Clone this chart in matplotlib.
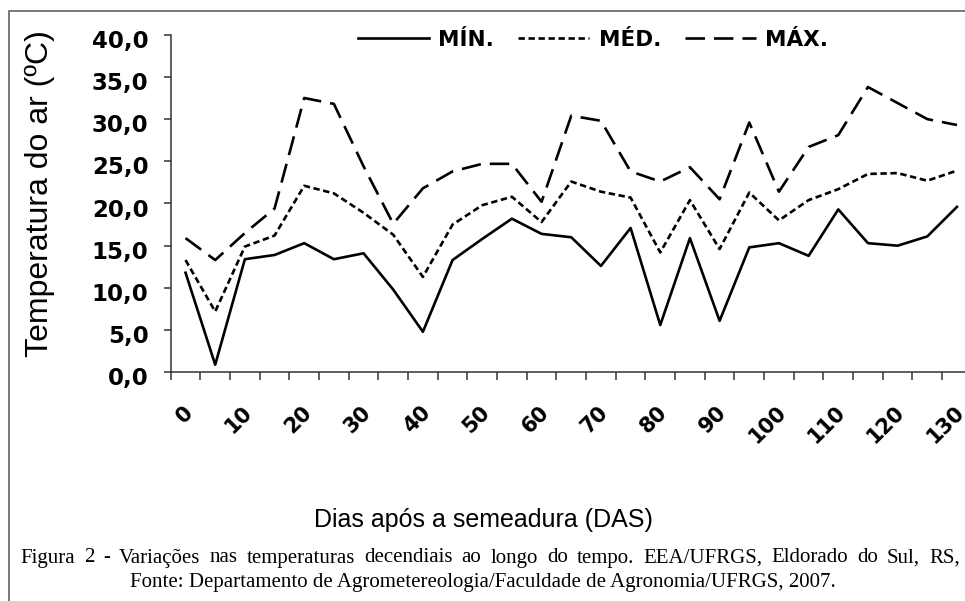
import numpy as np
import matplotlib
matplotlib.use("Agg")
import matplotlib.pyplot as plt
from matplotlib.patches import Rectangle
from matplotlib.transforms import ScaledTranslation

# dias apos a semeadura (a cada 5 dias)
dias = list(range(0, 135, 5))

t_min = [11.8, 0.9, 13.4, 13.9, 15.3, 13.4, 14.1, 9.8, 4.8, 13.3, 15.8, 18.2, 16.4, 16.0,
         12.6, 17.1, 5.6, 15.9, 6.1, 14.8, 15.3, 13.8, 19.3, 15.3, 15.0, 16.1, 19.6]
t_med = [13.3, 7.2, 14.9, 16.2, 22.1, 21.2, 18.9, 16.3, 11.3, 17.5, 19.8, 20.8, 17.8, 22.6,
         21.4, 20.7, 14.2, 20.4, 14.6, 21.3, 18.0, 20.4, 21.7, 23.5, 23.6, 22.7, 23.9]
t_max = [15.9, 13.3, 16.5, 19.4, 32.5, 31.8, 24.4, 17.6, 21.8, 23.8, 24.7, 24.7, 20.2, 30.4,
         29.8, 23.8, 22.6, 24.3, 20.5, 29.6, 21.4, 26.7, 28.1, 33.8, 31.9, 30.0, 29.3]

y_ticks = [0, 5, 10, 15, 20, 25, 30, 35, 40]
x_labels = list(range(0, 140, 10))

legenda_1 = 'Figura 2 - Variações nas temperaturas decendiais ao longo do tempo. EEA/UFRGS, Eldorado do Sul, RS,'
legenda_2 = 'Fonte: Departamento de Agrometereologia/Faculdade de Agronomia/UFRGS, 2007.'

plt.rcParams['lines.scale_dashes'] = False

W, H = 965, 601
fig = plt.figure(figsize=(W / 100, H / 100), dpi=100)
ax = fig.add_axes([170.7 / W, 1 - 372.3 / H, (971.8 - 170.7) / W, (372.3 - 34.7) / H])

lw = 1.9
ax.plot(dias, t_min, color='black', lw=lw, linestyle='-', label='MÍN.')
ax.plot(dias, t_med, color='black', lw=lw, linestyle=(0, (4.6, 2.6)), label='MÉD.')
ax.plot(dias, t_max, color='black', lw=lw, linestyle=(0, (14, 6.5)), label='MÁX.')

ax.set_xlim(-2.5, 132.5)
ax.set_ylim(0, 40)
for s in ['top', 'right']:
    ax.spines[s].set_visible(False)
for s in ['left', 'bottom']:
    ax.spines[s].set_color('#333333')
    ax.spines[s].set_linewidth(1.1)

ax.set_yticks(y_ticks)
ax.set_yticklabels([('%.1f' % v).replace('.', ',') for v in y_ticks],
                   fontsize=16.5, fontweight='bold', family='DejaVu Sans')
ax.tick_params(axis='y', direction='out', length=5, width=1.1, color='#333333', pad=11)
off = ScaledTranslation(0, -4 / 100, fig.dpi_scale_trans)
for lab in ax.get_yticklabels():
    lab.set_transform(lab.get_transform() + off)

ax.set_xticks(np.arange(-2.5, 135, 5))
ax.set_xticklabels([])
ax.tick_params(axis='x', direction='out', length=6, width=1.1, color='#333333')

for d in x_labels:
    ax.annotate(str(d), xy=(d, 0), xycoords='data', xytext=(4, -37), textcoords='offset pixels',
                rotation=45, ha='right', va='center', rotation_mode='anchor',
                fontsize=15, fontweight='bold', family='DejaVu Sans', annotation_clip=False)

fig.text(40 / W, 1 - 194 / H, 'Temperatura do ar (ºC)', rotation=90, ha='center', va='center',
         fontsize=23, family='Liberation Sans')
fig.text(483 / W, 1 - 520 / H, 'Dias após a semeadura (DAS)', ha='center', va='center',
         fontsize=18, family='Liberation Sans')

# primeira linha da legenda justificada entre x=20 e x=960
cap_fs = 15
renderer = fig.canvas.get_renderer()
palavras = legenda_1.split(' ')
textos = [fig.text(0, 1 - 558 / H, p, ha='left', va='center', fontsize=cap_fs,
                   family='Liberation Serif') for p in palavras]
larguras = [t.get_window_extent(renderer).width for t in textos]
gap = (960 - 20 - sum(larguras)) / (len(palavras) - 1)
x = 20
for t, w in zip(textos, larguras):
    t.set_x(x / W)
    x += w + gap

fig.text(483 / W, 1 - 582 / H, legenda_2, ha='center', va='center', fontsize=cap_fs,
         family='Liberation Serif')

fig.legend(loc='center', bbox_to_anchor=(593 / W, 1 - 40 / H), ncol=3, frameon=False,
           prop={'family': 'DejaVu Sans', 'weight': 'bold', 'size': 15.5},
           handlelength=3.3, handletextpad=0.45, columnspacing=1.1, borderaxespad=0)

fig.patches.append(Rectangle((8.5 / W, -0.1), 1.2, 1 - 10.5 / H + 0.1, transform=fig.transFigure,
                             fill=False, edgecolor='#555555', linewidth=1.1))

fig.savefig('out.png', dpi=100)
